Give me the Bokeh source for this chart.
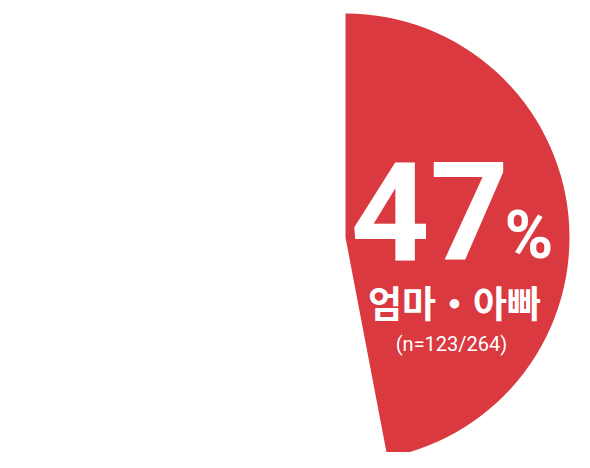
import math

from bokeh.plotting import figure
from bokeh.models import Range1d
from bokeh.core.properties import value
from bokeh.embed import file_html
from bokeh.resources import INLINE

# data
share_pct = [47]
group_label = ["엄마・아빠"]
n_count = [123]
n_total = [264]

# 574x452 figure, 1 data unit = 1 px, coordinates measured from the window top-left
W, H = 574, 452
PAGE_H = 468


def sy(y):
    # screen y (from top of window) to data y
    return PAGE_H - y


p = figure(width=W, height=H, output_backend="svg", toolbar_location=None,
           x_range=Range1d(0, W), y_range=Range1d(PAGE_H - H, PAGE_H),
           min_border=0)
p.axis.visible = False
p.grid.visible = False
p.outline_line_color = None
p.background_fill_color = "white"

red = "#d9393f"
cx, cy, r = 345, sy(237), 224

# the slice starts at 12 o'clock and runs clockwise
start = math.pi / 2
end = start - 2 * math.pi * share_pct[0] / 100
p.wedge(x=[cx], y=[cy], radius=r, start_angle=start, end_angle=end,
        direction="clock", fill_color=red, line_color=None)

# big number
p.text(x=[350], y=[sy(210)], text=[str(share_pct[0])],
       text_font=value("Roboto"), text_font_style="bold",
       text_font_size="138px", text_color="white",
       text_align="left", text_baseline="alphabetic")
p.text(x=[504], y=[sy(235)], text=["%"],
       text_font=value("Roboto"), text_font_style="bold",
       text_font_size="66px", text_color="white",
       text_align="left", text_baseline="alphabetic")

# label and sample size
p.text(x=[454], y=[sy(301)], text=group_label,
       text_font=value("Noto Sans CJK KR"), text_font_style="bold",
       text_font_size="37px", text_color="white",
       text_align="center", text_baseline="alphabetic")
p.text(x=[451], y=[sy(343)], text=["(n=%d/%d)" % (n_count[0], n_total[0])],
       text_font=value("Roboto"), text_font_size="20px", text_color="white",
       text_align="center", text_baseline="alphabetic")

open("out.html", "w").write(file_html(p, INLINE))
